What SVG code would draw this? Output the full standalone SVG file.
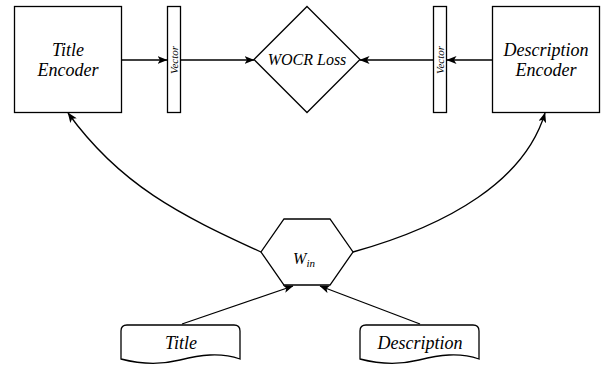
<svg xmlns="http://www.w3.org/2000/svg" width="604" height="365" viewBox="0 0 604 365">
<style>
.s{fill:#fff;stroke:#000;stroke-width:1.3}
.e{fill:none;stroke:#000;stroke-width:1.3}
text{font-family:'Liberation Serif','Times New Roman',serif;font-style:italic;fill:#000;text-anchor:middle}
.t18{font-size:18px}
.t16{font-size:16px}
.t11{font-size:11px}
</style>
<defs>
<marker id="a" markerUnits="userSpaceOnUse" viewBox="0 0 10 8" refX="9.5" refY="4" markerWidth="10" markerHeight="8" orient="auto">
<path d="M0,0 L10,4 L0,8 L2.5,4 Z" fill="#000"/>
</marker>
</defs>
<g id="connectors">
<line class="e" x1="121" y1="60" x2="167" y2="60" marker-end="url(#a)"/>
<line class="e" x1="181" y1="60" x2="254" y2="60" marker-end="url(#a)"/>
<line class="e" x1="493" y1="60" x2="447" y2="60" marker-end="url(#a)"/>
<line class="e" x1="433" y1="60" x2="360" y2="60" marker-end="url(#a)"/>
<path class="e" d="M261,252 C180,215 120,185 68,113" marker-end="url(#a)"/>
<path class="e" d="M353,252 C450,225 525,180 545,113" marker-end="url(#a)"/>
<line class="e" x1="182" y1="324" x2="293" y2="286" marker-end="url(#a)"/>
<line class="e" x1="420" y1="324" x2="320" y2="286" marker-end="url(#a)"/>
</g>
<g id="title-encoder">
<rect class="s" x="14.5" y="6.5" width="107" height="106"/>
<text class="t18" x="68" y="56">Title</text>
<text class="t18" x="68" y="76">Encoder</text>
</g>
<g id="vector-left">
<rect class="s" x="167.5" y="6.5" width="13" height="106"/>
<text class="t11" transform="translate(177.5,60) rotate(-90)">Vector</text>
</g>
<g id="wocr-loss">
<polygon class="s" points="307,6.5 360,59.5 307,112.5 254,59.5"/>
<text class="t16" x="307" y="65">WOCR Loss</text>
</g>
<g id="vector-right">
<rect class="s" x="433.5" y="6.5" width="13" height="106"/>
<text class="t11" transform="translate(443.5,60) rotate(-90)">Vector</text>
</g>
<g id="description-encoder">
<rect class="s" x="492.5" y="6.5" width="107" height="106"/>
<text class="t18" x="546" y="56">Description</text>
<text class="t18" x="546" y="76">Encoder</text>
</g>
<g id="win">
<polygon class="s" points="284,219 330,219 353,252 330,285 284,285 261,252"/>
<text class="t16" x="304" y="264">W<tspan font-size="11" dy="3">in</tspan></text>
</g>
<g id="title-doc">
<path class="s" d="M121,331 Q121,325 127,325 L234,325 Q240,325 240,331 L240,359 C220,352 200,355 180,360 C160,365 140,364 121,359 Z"/>
<text class="t18" x="181" y="349">Title</text>
</g>
<g id="description-doc">
<path class="s" d="M360,331 Q360,325 366,325 L473,325 Q479,325 479,331 L479,359 C459,352 439,355 419,360 C399,365 379,364 360,359 Z"/>
<text class="t18" x="420" y="349">Description</text>
</g>
</svg>
